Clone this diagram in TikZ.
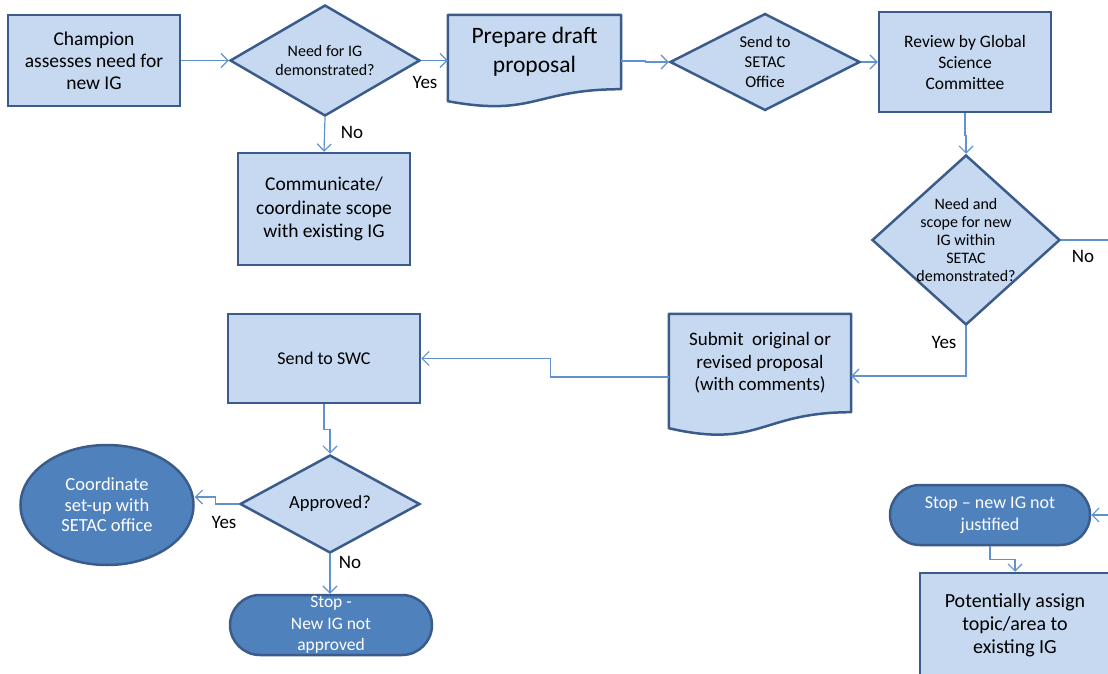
\documentclass[tikz,border=0pt]{standalone}
\usepackage{fontspec}
\setmainfont{Carlito}
\usepackage{tikz}
\usetikzlibrary{arrows.meta}
\usetikzlibrary{calc}
\usetikzlibrary{shapes.geometric}
\usetikzlibrary{shapes.misc}
\usetikzlibrary{backgrounds}
\definecolor{boxfill}{RGB}{198,217,241}
\definecolor{boxline}{RGB}{59,92,138}
\definecolor{stopfill}{RGB}{79,129,189}
\definecolor{flowline}{RGB}{96,146,206}
% wavy bottom of a document box: node, dip of the curve, drop at the left end
\newcommand{\wavedoc}[3]{%
  \path[docbox line] (#1.north west) -- (#1.north east) -- (#1.south east)
    .. controls (#1.south) and ([yshift=-#2]#1.south) .. ([yshift=-#3]#1.south west) -- cycle;}

\begin{document}
\begin{tikzpicture}[
    x=1pt, y=-1pt,
    >={Straight Barb[length=7pt,width=14pt]},
    process/.style={rectangle, draw=boxline, fill=boxfill, line width=2.5pt, align=center, inner sep=0pt},
    docbox/.style={rectangle, align=center, inner sep=0pt},
    docbox line/.style={draw=boxline, fill=boxfill, line width=2.5pt, line join=round},
    decision/.style={diamond, draw=boxline, fill=boxfill, line width=2.5pt, align=center, inner sep=0pt},
    startstop/.style={rounded rectangle, draw=boxline, fill=stopfill, line width=2.5pt, align=center, text=white, inner xsep=0pt, inner ysep=-10pt},
    setup/.style={ellipse, draw=boxline, fill=stopfill, line width=2.5pt, align=center, text=white, inner sep=-4pt},
    flow/.style={->, draw=flowline, line width=1.2pt},
    answer/.style={font=\fontsize{19}{22}\selectfont}
    ]

    \useasboundingbox (0,0) rectangle (1108,674);

    % top row
    \node[process, minimum width=172, minimum height=91, font=\fontsize{19.5}{22}\selectfont] (champ) at (94,60.5) {Champion\\assesses need for\\new IG};
    \node[decision, minimum width=190, minimum height=111, aspect=1.7, inner sep=-4pt, font=\fontsize{16}{19}\selectfont] (need) at (325,60.5) {Need for IG\\demonstrated?};
    \node[docbox, minimum width=173, minimum height=74, font=\fontsize{23.5}{29}\selectfont] (draft) at (534.5,52) {Prepare draft\\proposal};
    \node[decision, minimum width=190, minimum height=97, aspect=2, inner sep=-4pt, font=\fontsize{16.5}{20}\selectfont] (send) at (765,62) {Send to\\SETAC\\Office};
    \node[process, minimum width=172, minimum height=100, font=\fontsize{17.5}{21}\selectfont] (review) at (965,62) {Review by Global\\Science\\Committee};
    \node[process, minimum width=172, minimum height=112, font=\fontsize{19.5}{23.5}\selectfont] (commun) at (324,209) {Communicate/\\coordinate scope\\with existing IG};

    % right column
    \node[decision, minimum width=188, minimum height=170, aspect=1.1, inner sep=-20pt, font=\fontsize{16}{18}\selectfont] (scope) at (966,240) {Need and\\scope for new\\IG within\\SETAC\\demonstrated?};
    \node[docbox, minimum width=182, minimum height=98, font=\fontsize{19}{22.5}\selectfont] (submit) at (760,363) {Submit~ original or\\revised proposal\\(with comments)};
    \node[startstop, minimum width=200, minimum height=60, font=\fontsize{18}{22}\selectfont] (notjust) at (990,515) {Stop -- new IG not\\justified};
    \node[process, minimum width=190, minimum height=104, font=\fontsize{20}{23}\selectfont] (assign) at (1015,625) {Potentially assign\\topic/area to\\existing IG};

    % left column
    \node[process, minimum width=192, minimum height=89, font=\fontsize{18}{20}\selectfont] (swc) at (324,358.5) {Send to SWC};
    \node[decision, minimum width=180, minimum height=98, aspect=1.8, font=\fontsize{18.5}{20}\selectfont] (approved) at (330,504) {Approved?};
    \node[setup, minimum width=173, minimum height=120, font=\fontsize{18.5}{20.5}\selectfont] (coord) at (107,505) {Coordinate\\set-up with\\SETAC office};
    \node[startstop, minimum width=202, minimum height=60, font=\fontsize{17.5}{21.5}\selectfont] (notappr) at (331,625) {Stop -\\New IG not\\approved};

    % document shapes
    \begin{scope}[on background layer]
        \wavedoc{draft}{28pt}{12pt}
        \wavedoc{submit}{37pt}{16pt}
    \end{scope}

    % connectors
    \draw[flow] (champ.east) -- ++(25,0) |- (need.west);
    \draw[flow] (need.east) -- (need.east -| draft.west);
    \draw[flow] (need.south) -- (commun.north);
    \draw[flow] ([yshift=-9pt]draft.east) -- ++(24,0) |- (send.west);
    \draw[flow] (send.east) -- (send.east -| review.west);
    \draw[flow] (review.south) -- ++(0,22) -| (scope.north);
    \draw[flow] (scope.south) |- ([yshift=-13pt]submit.east);
    \draw[flow] (scope.east) -- ++(70,0) |- (notjust.east);
    \draw[flow] (notjust.south) -- ++(0,13) -| (assign.north);
    \draw[flow] ([yshift=-14pt]submit.west) -- ++(-118,0) |- (swc.east);
    \draw[flow] (swc.south) -- ++(0,25) -| (approved.north);
    \draw[flow] (approved.west) -- ++(-23,0) |- ([yshift=8pt]coord.east);
    \draw[flow] (approved.south) -- (approved.south |- notappr.north);

    % answers
    \node[answer] (yes1) at (425,82) {Yes};
    \node[answer] (no1) at (352,132) {No};
    \node[answer] (yes2) at (944,342) {Yes};
    \node[answer] (no2) at (1083,256) {No};
    \node[answer] (yes3) at (224,522) {Yes};
    \node[answer] (no3) at (350,562) {No};

\end{tikzpicture}
\end{document}
